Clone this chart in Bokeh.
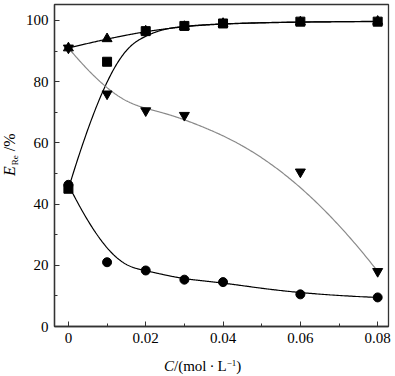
import numpy as np
from bokeh.plotting import figure
from bokeh.layouts import row, column
from bokeh.models import Range1d, FixedTicker, CustomJSTickFormatter, Div
from bokeh.embed import file_html
from bokeh.resources import INLINE

# ---- data ----
x_all = [0.0, 0.01, 0.02, 0.03, 0.04, 0.06, 0.08]
up_tri = [91.0, 94.0, 96.5, 98.0, 99.0, 99.5, 99.7]
squares = [45.0, 86.5, 96.5, 98.2, 99.0, 99.6, 99.6]
x_down = [0.0, 0.01, 0.02, 0.03, 0.06, 0.08]
down_tri = [91.0, 76.0, 70.5, 69.0, 50.5, 18.0]
circles = [46.3, 21.0, 18.3, 15.3, 14.5, 10.5, 9.5]

x_ticks = [0, 0.02, 0.04, 0.06, 0.08]
y_ticks = [0, 20, 40, 60, 80, 100]

FONT = "Liberation Serif"


# ---- B-spline connecting line (data points used as control points) ----
def bspline(xp, yp, degree=3, n=400):
    P = np.column_stack([xp, yp]).astype(float)
    m = len(P)
    k = min(degree, m - 1)
    inner = np.arange(1, m - k)
    knots = np.concatenate([np.zeros(k + 1), inner, np.full(k + 1, m - k)]).astype(float)
    ts = np.linspace(0, m - k, n)
    ts[-1] -= 1e-9

    def basis(i, d, t):
        if d == 0:
            return np.where((knots[i] <= t) & (t < knots[i + 1]), 1.0, 0.0)
        out = np.zeros_like(t)
        den1 = knots[i + d] - knots[i]
        den2 = knots[i + d + 1] - knots[i + 1]
        if den1 > 0:
            out += (t - knots[i]) / den1 * basis(i, d - 1, t)
        if den2 > 0:
            out += (knots[i + d + 1] - t) / den2 * basis(i + 1, d - 1, t)
        return out

    B = np.column_stack([basis(i, k, ts) for i in range(m)])
    C = B @ P
    return C[:, 0], C[:, 1]


YDIV_W = 22
p = figure(width=395 - YDIV_W, height=352, output_backend="svg", toolbar_location=None,
           x_range=Range1d(-0.0036, 0.0828), y_range=Range1d(0, 105.2),
           min_border_left=52 - YDIV_W, min_border_right=7, min_border_top=4,
           min_border_bottom=26, margin=0)
p.background_fill_color = "white"
p.border_fill_color = "white"
p.outline_line_color = "#333333"
p.outline_line_width = 1.3
p.grid.visible = False

# curves
for xp, yp, col in ((x_all, up_tri, "black"), (x_all, squares, "black"),
                    (x_down, down_tri, "#8a8a8a"), (x_all, circles, "black")):
    cx, cy = bspline(xp, yp)
    p.line(cx, cy, line_color=col, line_width=1.2)

# markers
p.scatter(x_all, up_tri, marker="triangle", size=10, color="black")
p.scatter(x_all, squares, marker="square", size=9, color="black")
p.scatter(x_down, down_tri, marker="inverted_triangle", size=10, color="black")
p.scatter(x_all, circles, marker="circle", size=9, color="black")

for ax in (p.xaxis[0], p.yaxis[0]):
    ax.axis_line_color = "#333333"
    ax.axis_line_width = 1.3
    ax.major_tick_in = 5
    ax.major_tick_out = 0
    ax.minor_tick_in = 3
    ax.minor_tick_out = 0
    ax.major_tick_line_color = "#333333"
    ax.minor_tick_line_color = "#333333"
    ax.major_label_text_font = FONT
    ax.major_label_text_font_size = "15px"
    ax.major_label_text_color = "black"

p.xaxis.ticker = FixedTicker(ticks=x_ticks, minor_ticks=[0.01, 0.03, 0.05, 0.07])
p.yaxis.ticker = FixedTicker(ticks=y_ticks, minor_ticks=[10, 30, 50, 70, 90])
p.xaxis.formatter = CustomJSTickFormatter(code="return Math.abs(tick) < 1e-9 ? '0' : tick.toFixed(2);")
p.xaxis.major_label_standoff = 6
p.yaxis.major_label_standoff = 6

# axis titles as real text with mixed styles
base_css = f"font-family:'{FONT}';line-height:16px;color:black;white-space:nowrap;"
ydiv = Div(width=YDIV_W, height=352, margin=0, text=(
    f'<div style="position:relative;width:{YDIV_W}px;height:352px;">'
    f'<div style="position:absolute;left:2px;top:176px;transform-origin:0 0;'
    f'transform:rotate(-90deg);font-size:16px;{base_css}">'
    '<i>E</i><span style="font-size:9px;vertical-align:-3px;margin-left:1px;">Re</span>&nbsp;/%'
    '</div></div>'))
xdiv = Div(width=395 - YDIV_W, height=24, margin=0, text=(
    f'<div style="position:relative;width:{395 - YDIV_W}px;height:24px;">'
    f'<div style="position:absolute;left:142px;top:3px;font-size:15px;{base_css}">'
    '<i>C</i>/(mol&thinsp;·&thinsp;L<sup style="font-size:9px;vertical-align:5px;">−1</sup>)'
    '</div></div>'))

layout = row(ydiv, column(p, xdiv, spacing=0), spacing=0)

open("out.html", "w").write(file_html(layout, INLINE))
